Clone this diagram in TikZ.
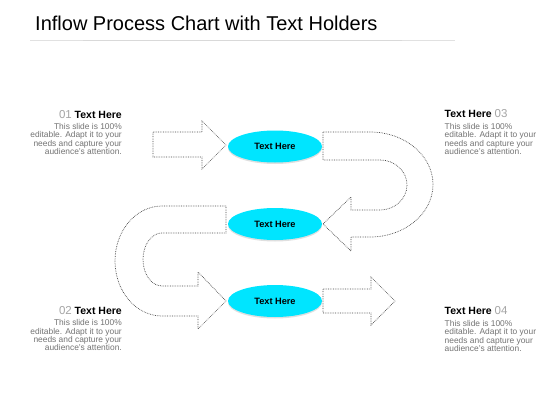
\documentclass[tikz,border=0pt]{standalone}
\usepackage{fontspec}
\setmainfont{Liberation Sans}
\usetikzlibrary{shapes.geometric,shadows}
\definecolor{cyanfill}{RGB}{0,229,255}
\definecolor{bodygray}{RGB}{115,115,115}
\definecolor{numgray}{RGB}{165,165,165}
\definecolor{dotgray}{RGB}{70,70,70}
\definecolor{rulegray}{RGB}{225,225,225}
\begin{document}
\begin{tikzpicture}[x=1pt,y=-1pt,
  dotline/.style={draw=dotgray, line width=0.7pt, densely dotted},
  stage/.style={ellipse, fill=cyanfill, minimum width=94pt, minimum height=32pt, inner sep=0pt,
    font=\fontsize{9.2}{10}\selectfont\bfseries,
    drop shadow={shadow xshift=0pt, shadow yshift=-1.5pt, opacity=0.25, fill=gray}},
  heading/.style={inner sep=0pt, font=\fontsize{10.5}{12}\selectfont},
  body/.style={inner sep=0pt, text=bodygray, font=\fontsize{8.4}{8.4}\selectfont}]
\fill[white] (0,0) rectangle (560,420);
\useasboundingbox (0,0) rectangle (560,420);

% title
\node[anchor=base west, inner sep=0pt, font=\fontsize{20}{24}\selectfont] (title) at (35,31) {Inflow Process Chart with Text Holders};
\draw[rulegray, line width=0.6pt] (30,40) -- (455,40);
\draw[gray!30, line width=0.8pt] (83,40) -- (402,40);

% arrow 1 (into stage 1)
\draw[dotline] (153,132) -- (202,132) -- (202,121) -- (226,145) -- (202,169) -- (202,157) -- (153,157) -- cycle;

% right U-turn arrow (stage 1 -> stage 2)
\draw[dotline] (323,132) -- (370,132)
  arc[start angle=-90, end angle=90, x radius=63, y radius=52.5]
  -- (351,237) -- (351,251) -- (323,224) -- (351,197) -- (351,210) -- (380,210)
  arc[start angle=90, end angle=-90, x radius=27, y radius=25]
  -- (323,160) -- cycle;

% left U-turn arrow (stage 2 -> stage 3)
\draw[dotline] (226,206) -- (162,206)
  arc[start angle=-90, end angle=-270, x radius=47, y radius=55]
  -- (198,316) -- (198,329) -- (226,301) -- (198,272) -- (198,286) -- (162,286)
  arc[start angle=90, end angle=270, x radius=19, y radius=26.5]
  -- (226,233) -- cycle;

% arrow 4 (out of stage 3)
\draw[dotline] (323,289) -- (371,289) -- (371,277) -- (395,301) -- (371,325) -- (371,313) -- (323,313) -- cycle;

% stages
\node[stage] (s1) at (275,146.5) {Text Here};
\node[stage] (s2) at (275,224) {Text Here};
\node[stage] (s3) at (275,301) {Text Here};

% text block 01
\node[heading, anchor=base east] (h1) at (122,118) {\textcolor{numgray}{\fontsize{11.5}{12}\selectfont 01} \textbf{Text Here}};
\node[body, align=right, anchor=north east] (b1) at (122,123) {This slide is 100\%\\editable. Adapt it to your\\needs and capture your\\audience's attention.};

% text block 03
\node[heading, anchor=base west] (h3) at (444.5,117.5) {\textbf{Text Here} \textcolor{numgray}{\fontsize{11.5}{12}\selectfont 03}};
\node[body, align=left, anchor=north west] (b3) at (444.5,123) {This slide is 100\%\\editable. Adapt it to your\\needs and capture your\\audience's attention.};

% text block 02
\node[heading, anchor=base east] (h2) at (122,314) {\textcolor{numgray}{\fontsize{11.5}{12}\selectfont 02} \textbf{Text Here}};
\node[body, align=right, anchor=north east] (b2) at (122,319.5) {This slide is 100\%\\editable. Adapt it to your\\needs and capture your\\audience's attention.};

% text block 04
\node[heading, anchor=base west] (h4) at (444.5,314.5) {\textbf{Text Here} \textcolor{numgray}{\fontsize{11.5}{12}\selectfont 04}};
\node[body, align=left, anchor=north west] (b4) at (444.5,320) {This slide is 100\%\\editable. Adapt it to your\\needs and capture your\\audience's attention.};
\end{tikzpicture}
\end{document}
